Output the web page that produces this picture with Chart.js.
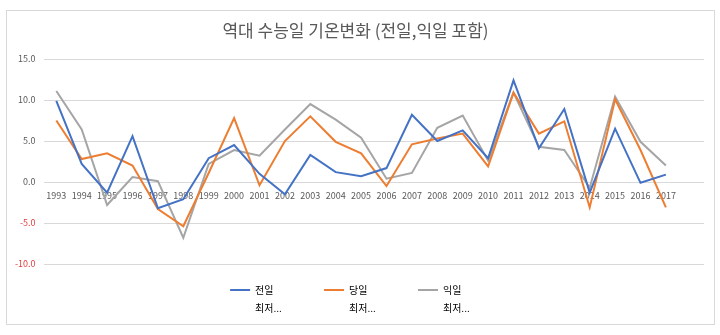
<!DOCTYPE html>
<html>
<head>
<meta charset="utf-8">
<script src="https://cdn.jsdelivr.net/npm/chart.js@4/dist/chart.umd.min.js"></script>
<style>
  body { margin: 0; background: #fff; }
  #box { position: absolute; left: 6px; top: 10px; width: 707px; height: 313px; border: 1px solid #d9d9d9; }
</style>
</head>
<body>
<div id="box"><canvas id="chart" width="707" height="313"></canvas></div>
<script>
// years (last slot is an empty category, as in the sheet)
const years = ['1993','1994','1995','1996','1997','1998','1999','2000','2001','2002','2003','2004','2005',
  '2006','2007','2008','2009','2010','2011','2012','2013','2014','2015','2016','2017',''];

const seriesNames = ['전일', '당일', '익일'];
const legendSub = '최저...';

// 전일 / 당일 / 익일 최저기온
const prevDay = [9.9, 2.2, -1.3, 5.6, -3.2, -2.1, 2.9, 4.5, 1.0, -1.5, 3.3, 1.2, 0.7,
  1.7, 8.2, 5.0, 6.3, 2.9, 12.4, 4.1, 8.9, -1.3, 6.5, -0.1, 0.9];
const sameDay = [7.5, 2.8, 3.5, 2.0, -3.3, -5.4, 1.1, 7.8, -0.4, 5.0, 8.0, 4.9, 3.5,
  -0.5, 4.6, 5.3, 5.9, 1.9, 10.9, 5.9, 7.4, -3.1, 10.1, 3.9, -3.1];
const nextDay = [11.1, 6.4, -2.8, 0.6, 0.1, -6.8, 2.2, 3.9, 3.2, 6.4, 9.5, 7.6, 5.4,
  0.4, 1.1, 6.6, 8.1, 2.6, 10.9, 4.3, 3.9, -0.7, 10.4, 4.9, 2.0];

const yTicks = [-10, -5, 0, 5, 10, 15];
const colors = ['#4472C4', '#ED7D31', '#A5A5A5'];

Chart.defaults.font.family = "'Noto Sans CJK KR', 'Noto Sans', sans-serif";
Chart.defaults.color = '#595959';

// legend is clipped to its box; give the second label line room
// and nudge the row a bit to the right like the sheet
const legendRoom = {
  id: 'legendRoom',
  afterLayout: chart => {
    const lg = chart.legend;
    lg.bottom = chart.height;
    lg.left += 5;
    lg.right += 5;
  }
};

const ctx = document.getElementById('chart').getContext('2d');
new Chart(ctx, {
  type: 'line',
  data: {
    labels: years,
    datasets: [prevDay, sameDay, nextDay].map((d, i) => ({
      label: seriesNames[i],
      data: d,
      borderColor: colors[i],
      backgroundColor: colors[i],
      borderWidth: 2,
      pointRadius: 0,
      tension: 0
    }))
  },
  plugins: [legendRoom],
  options: {
    responsive: false,
    animation: false,
    layout: { padding: { left: 0, right: 10, bottom: 19 } },
    plugins: {
      title: {
        display: true,
        text: '역대 수능일 기온변화 (전일,익일 포함)',
        font: { size: 17, weight: 'normal' },
        color: '#595959',
        padding: { top: 9, bottom: 18.6 }
      },
      legend: {
        position: 'bottom',
        labels: {
          boxWidth: 20,
          boxHeight: 2,
          padding: 21,
          font: { size: 10, lineHeight: 1.8 },
          color: '#595959',
          generateLabels: chart => chart.data.datasets.map((ds, i) => ({
            text: [ds.label, legendSub],
            fillStyle: ds.borderColor,
            strokeStyle: ds.borderColor,
            lineWidth: 0,
            datasetIndex: i,
            hidden: false
          }))
        }
      },
      tooltip: { enabled: false }
    },
    scales: {
      x: {
        position: { y: 0 },
        offset: true,
        grid: { display: false },
        border: { display: false },
        ticks: { autoSkip: false, maxRotation: 0, font: { size: 9 }, color: '#595959', padding: 0 }
      },
      y: {
        min: -10,
        max: 15,
        afterBuildTicks: s => { s.ticks = yTicks.map(v => ({ value: v })); },
        grid: { color: '#d9d9d9', drawTicks: false },
        border: { display: false },
        ticks: {
          padding: 8,
          font: { size: 9 },
          color: c => c.tick.value < 0 ? '#e03c3c' : '#595959',
          callback: v => v.toFixed(1)
        }
      }
    }
  }
});
</script>
</body>
</html>
